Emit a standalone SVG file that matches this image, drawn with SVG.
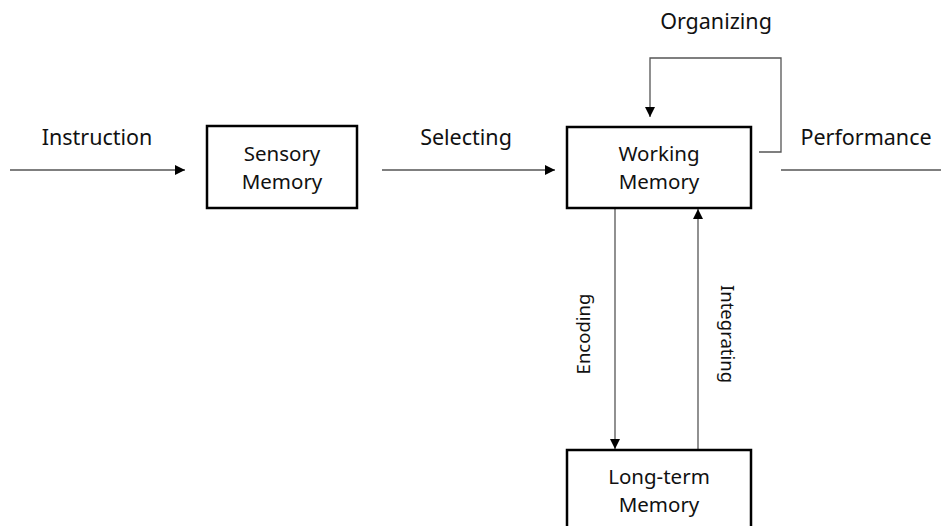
<svg xmlns="http://www.w3.org/2000/svg" width="941" height="526" viewBox="0 0 941 526">
<defs>
<marker id="ah" viewBox="0 0 10 10" refX="10" refY="5" markerWidth="10" markerHeight="10" markerUnits="userSpaceOnUse" orient="auto">
<path d="M0,0 L10,5 L0,10 Z" fill="#000"/>
</marker>
<style>
.box{fill:#fff;stroke:#000;stroke-width:2.5}
.t{font-family:"Noto Sans","Open Sans",sans-serif;font-size:21.5px;fill:#111;text-anchor:middle}
.b{font-size:20.5px}
.v{font-size:18.5px}
.c{fill:none;stroke:#555;stroke-width:1.3}
</style>
</defs>
<rect width="941" height="526" fill="#fff"/>
<g id="connectors">
<line class="c" x1="10" y1="170" x2="185" y2="170" marker-end="url(#ah)"/>
<line class="c" x1="382" y1="170" x2="555" y2="170" marker-end="url(#ah)"/>
<line class="c" x1="781" y1="170" x2="941" y2="170"/>
<polyline class="c" points="759,152 781,152 781,58 650,58 650,117" marker-end="url(#ah)"/>
<line class="c" x1="615" y1="209" x2="615" y2="449" marker-end="url(#ah)"/>
<line class="c" x1="698" y1="450" x2="698" y2="209" marker-end="url(#ah)"/>
<text class="t" x="97" y="145">Instruction</text>
<text class="t" x="466" y="145">Selecting</text>
<text class="t" x="866" y="145">Performance</text>
<text class="t" x="716" y="29">Organizing</text>
<text class="t v" transform="translate(590,334) rotate(-90)">Encoding</text>
<text class="t v" transform="translate(721,334) rotate(90)">Integrating</text>
</g>
<g id="sensory">
<rect class="box" x="207" y="126" width="150" height="82"/>
<text class="t b" x="282" y="161">Sensory</text>
<text class="t b" x="282" y="189">Memory</text>
</g>
<g id="working">
<rect class="box" x="567" y="127" width="184" height="81"/>
<text class="t b" x="659" y="161">Working</text>
<text class="t b" x="659" y="189">Memory</text>
</g>
<g id="longterm">
<rect class="box" x="567" y="450" width="184" height="90"/>
<text class="t b" x="659" y="484">Long-term</text>
<text class="t b" x="659" y="512">Memory</text>
</g>
</svg>
